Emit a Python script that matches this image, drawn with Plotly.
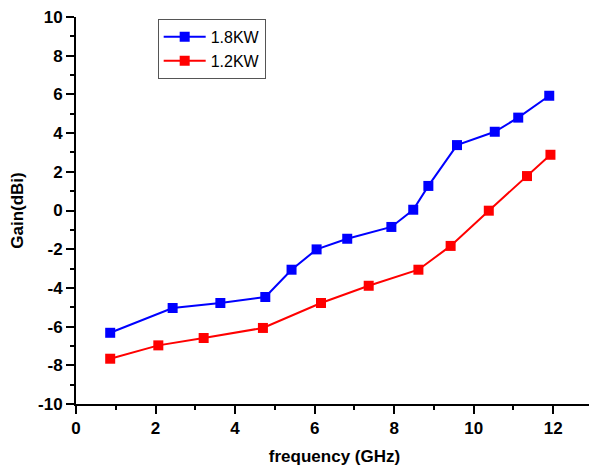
import plotly.graph_objects as go

freq_18 = [0.86, 2.43, 3.63, 4.76, 5.42, 6.05, 6.82, 7.93, 8.48, 8.86, 9.58, 10.53, 11.12, 11.9]
gain_18 = [-6.32, -5.04, -4.78, -4.47, -3.06, -2.01, -1.46, -0.85, 0.04, 1.27, 3.38, 4.07, 4.80, 5.93]

freq_12 = [0.86, 2.07, 3.21, 4.70, 6.16, 7.36, 8.61, 9.42, 10.38, 11.34, 11.93]
gain_12 = [-7.66, -6.97, -6.59, -6.07, -4.78, -3.89, -3.06, -1.83, -0.01, 1.78, 2.88]

x_ticks = [0, 2, 4, 6, 8, 10, 12]
y_ticks = [-10, -8, -6, -4, -2, 0, 2, 4, 6, 8, 10]

FONT = "Liberation Sans, Arial, sans-serif"

fig = go.Figure()
fig.add_trace(go.Scatter(
    x=freq_18, y=gain_18, name="1.8KW", mode="lines+markers",
    line=dict(color="#0000ff", width=2),
    marker=dict(symbol="square", size=10, color="#0000ff"),
))
fig.add_trace(go.Scatter(
    x=freq_12, y=gain_12, name="1.2KW", mode="lines+markers",
    line=dict(color="#ff0000", width=2),
    marker=dict(symbol="square", size=10, color="#ff0000"),
))

axis_common = dict(
    showgrid=False, zeroline=False, automargin=False,
    showline=True, linecolor="black", linewidth=2,
    ticks="outside", ticklen=8, tickwidth=2, tickcolor="black",
    ticklabeloverflow="allow",
    tickfont=dict(family=FONT, size=17, color="black", weight="bold"),
    minor=dict(ticks="outside", ticklen=4, tickwidth=2, tickcolor="black", dtick=1, showgrid=False),
)

fig.update_xaxes(
    range=[0, 13], tickvals=x_ticks, ticktext=[str(v) for v in x_ticks],
    title=dict(text="frequency (GHz)", font=dict(family=FONT, size=17, color="black", weight="bold"), standoff=20),
    **axis_common
)
fig.update_yaxes(
    range=[-10, 10], tickvals=y_ticks, ticktext=[str(v) for v in y_ticks],
    title=dict(text="Gain(dBi)", font=dict(family=FONT, size=17, color="black", weight="bold"), standoff=14),
    **axis_common
)

# page body has a default 8px margin, so shrink the figure to fit the window
fig.update_layout(
    width=589, height=458,
    margin=dict(l=68, r=4, t=9, b=62),
    plot_bgcolor="white", paper_bgcolor="white",
    showlegend=True,
    legend=dict(
        x=0.158, y=0.995, xanchor="left", yanchor="top",
        bordercolor="#555555", borderwidth=1, bgcolor="white",
        font=dict(family=FONT, size=16, color="black"),
        tracegroupgap=0, itemwidth=42,
    ),
)

fig.write_html("out.html")
